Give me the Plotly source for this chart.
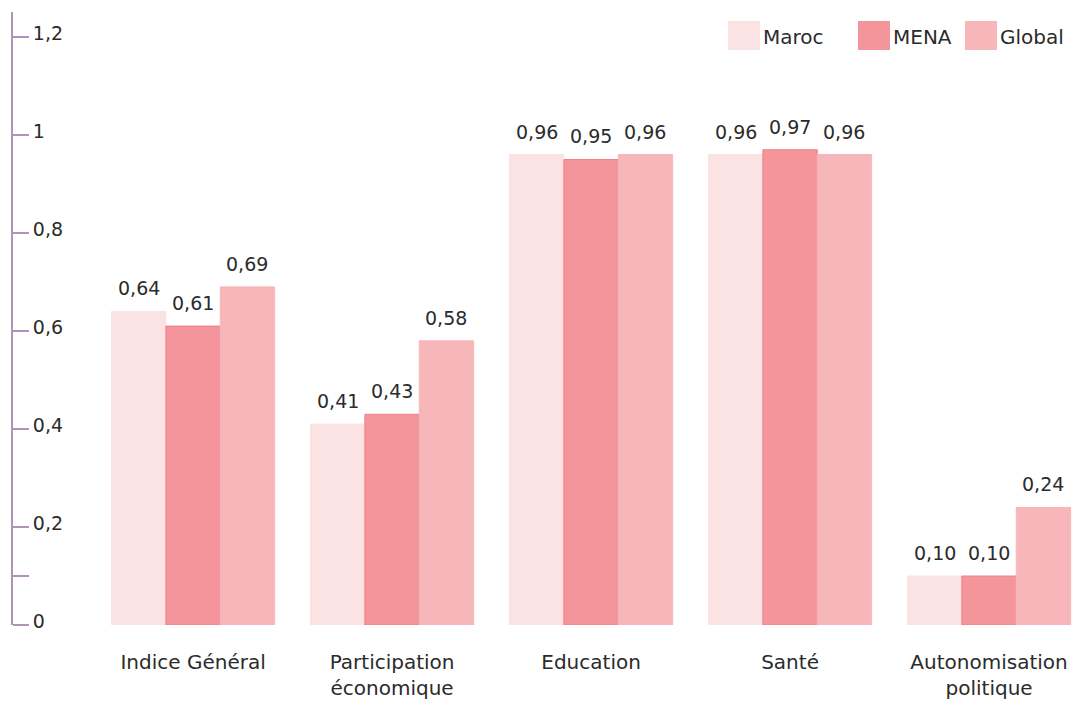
import plotly.graph_objects as go

categories = ["Indice Général", "Participation<br>économique", "Education", "Santé", "Autonomisation<br>politique"]
maroc = [0.64, 0.41, 0.96, 0.96, 0.10]
mena = [0.61, 0.43, 0.95, 0.97, 0.10]
global_ = [0.69, 0.58, 0.96, 0.96, 0.24]
series_names = ["Maroc", "MENA", "Global"]
colors = ["#fbe2e3", "#f4959b", "#f7b6ba"]
ytick_vals = [0, 0.1, 0.2, 0.4, 0.6, 0.8, 1.0, 1.2]
ytick_text = ["0", "", "0,2", "0,4", "0,6", "0,8", "1", "1,2"]

FONT = "DejaVu Sans"
FS = 20
TXT = "#2b2b2b"
AXC = "#b48fbb"

W, H = 1079, 703
ML, MR, MT, MB = 12, 0, 12, 78
YR = [0, 1.251]
BARGAP = 0.18

def fmt(v):
    return f"{v:.2f}".replace(".", ",")

fig = go.Figure()
annos = []
all_series = [maroc, mena, global_]
n = len(all_series)
for k, (name, vals, col) in enumerate(zip(series_names, all_series, colors)):
    fig.add_trace(go.Bar(
        x=list(range(len(categories))), y=vals, name=name,
        marker=dict(color=col, line=dict(color="#ee8088" if name == "MENA" else col, width=1)),
        showlegend=False,
    ))
    off = (k - (n - 1) / 2) * (1 - BARGAP) / n
    for i, v in enumerate(vals):
        annos.append(dict(x=i + off, y=v, xref="x", yref="y", text=fmt(v),
                          showarrow=False, xanchor="center", yanchor="bottom", yshift=10,
                          font=dict(family=FONT, size=FS - 1, color=TXT)))

# manual legend (pixel positions converted to paper coords)
pw, ph = W - ML - MR, H - MT - MB
def px(x):
    return (x - ML) / pw
def py(y):
    return (H - MB - y) / ph

leg_x = [728, 858, 965]
shapes = []
for name, col, x0 in zip(series_names, colors, leg_x):
    shapes.append(dict(type="rect", xref="paper", yref="paper",
                       x0=px(x0), x1=px(x0 + 32), y0=py(50), y1=py(21),
                       fillcolor=col, line=dict(width=0)))
    annos.append(dict(xref="paper", yref="paper", x=px(x0 + 33), y=py(37),
                      text=name, showarrow=False, xanchor="left", yanchor="middle",
                      font=dict(family=FONT, size=FS, color=TXT)))

fig.update_layout(
    width=W, height=H,
    margin=dict(l=ML, r=MR, t=MT, b=MB),
    paper_bgcolor="white", plot_bgcolor="white",
    barmode="group", bargap=BARGAP, bargroupgap=0,
    separators=", ",
    shapes=shapes, annotations=annos,
    font=dict(family=FONT, color=TXT),
    xaxis=dict(
        range=[-0.91, 4.452], tickmode="array",
        tickvals=list(range(len(categories))), ticktext=categories,
        showline=False, showgrid=False, zeroline=False, ticks="",
        tickfont=dict(family=FONT, size=FS, color=TXT),
        ticklabelstandoff=23,
    ),
    yaxis=dict(
        range=YR, showticklabels=False, showline=False, ticks="",
        showgrid=False, zeroline=False,
    ),
    yaxis2=dict(
        range=YR, overlaying="y", matches="y", anchor="free", position=0, side="right",
        tickmode="array", tickvals=ytick_vals, ticktext=ytick_text,
        showline=True, linecolor=AXC, linewidth=2,
        ticks="outside", ticklen=16, tickwidth=2, tickcolor=AXC,
        ticklabelshift=-4, ticklabelstandoff=0,
        showgrid=False, zeroline=False,
        tickfont=dict(family=FONT, size=FS - 1, color=TXT),
    ),
)
# invisible helper trace so the overlay axis is drawn
fig.add_trace(go.Scatter(x=[0], y=[0], yaxis="y2", mode="markers",
                         marker=dict(opacity=0), showlegend=False, hoverinfo="skip"))

fig.write_html("out.html")
